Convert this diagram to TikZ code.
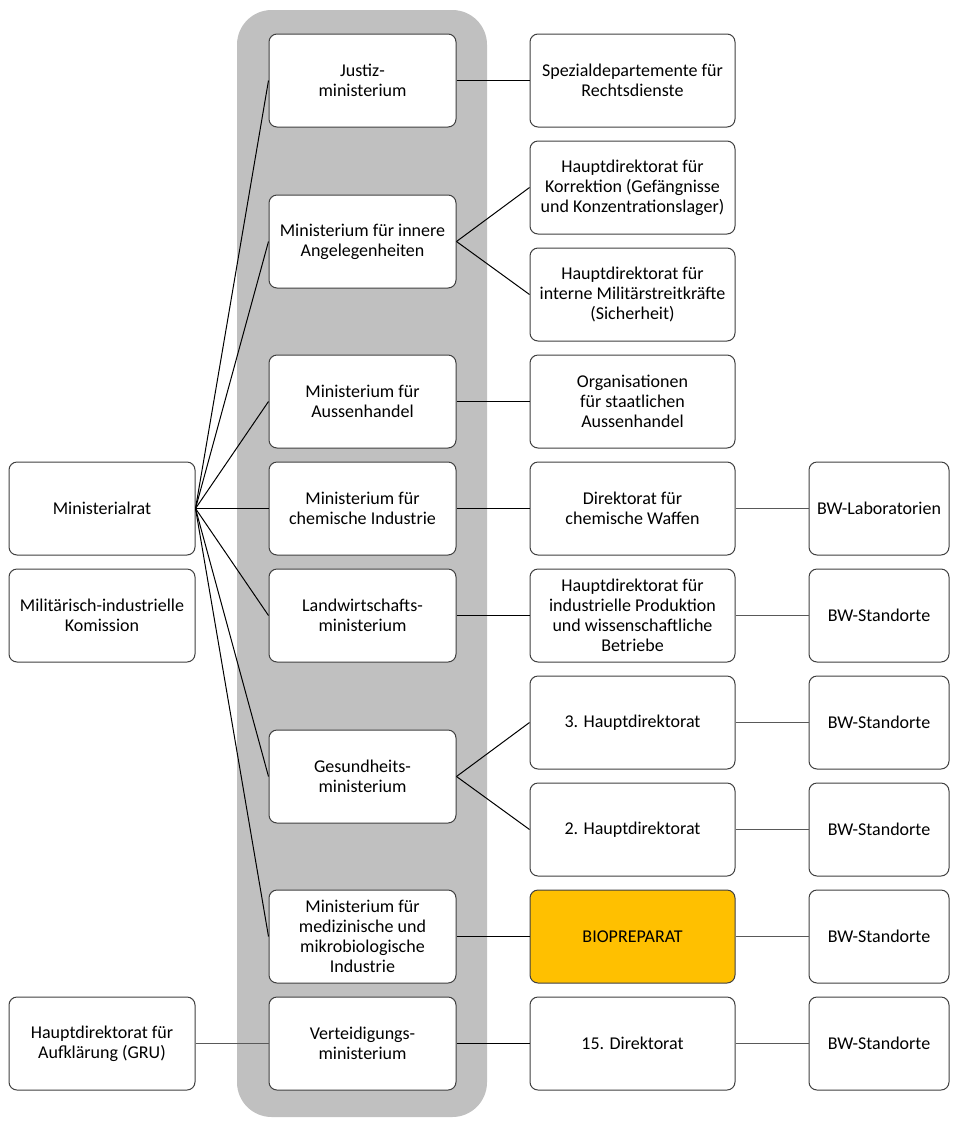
\documentclass[tikz,border=0pt]{standalone}
\usepackage{fontspec}
\setmainfont{Carlito}
\definecolor{orgcolor0000}{RGB}{192,192,192}
\definecolor{orgcolor0001}{RGB}{64,64,64}
\definecolor{orgcolor0002}{RGB}{255,192,0}
\definecolor{orgcolor0003}{RGB}{89,89,89}
\begin{document}
\begin{tikzpicture}[x=0.75pt,y=-0.75pt
,obox/.style={draw=orgcolor0001,fill=white,line width=0.75pt,rounded corners=6pt,align=center,minimum height=69.75pt,inner sep=2pt,font=\fontsize{13.5pt}{15pt}\selectfont}
,col1/.style={obox,minimum width=139.5pt}
,col2/.style={obox,minimum width=140.25pt}
,col3/.style={obox,minimum width=153.75pt}
,col4/.style={obox,minimum width=105pt}
,fanline/.style={color=black,line width=0.75pt}
,hline/.style={color=orgcolor0003,line width=0.75pt}
]
\useasboundingbox (0,0) rectangle (959,1129);
\fill[orgcolor0000,rounded corners=26pt] (237,10) rectangle (487,1117);
% left column
\node[col1] (mrat) at (102,508.5) {Ministerialrat};
\node[col1] (mik) at (102,615.5) {Militärisch-industrielle\\Komission};
\node[col1] (gru) at (102,1043.5) {Hauptdirektorat für\\Aufklärung (GRU)};
% ministries
\node[col2] (just) at (362.5,80.5) {Justiz-\\ministerium};
\node[col2] (inner) at (362.5,241.5) {Ministerium für innere\\Angelegenheiten};
\node[col2] (aussen) at (362.5,401.5) {Ministerium für\\Aussenhandel};
\node[col2] (chem) at (362.5,508.5) {Ministerium für\\chemische Industrie};
\node[col2] (landw) at (362.5,615.5) {Landwirtschafts-\\ministerium};
\node[col2] (gesund) at (362.5,776.5) {Gesundheits-\\ministerium};
\node[col2] (medi) at (362.5,936.5) {Ministerium für\\medizinische und\\mikrobiologische\\Industrie};
\node[col2] (vert) at (362.5,1043.5) {Verteidigungs-\\ministerium};
% directorates
\node[col3] (spez) at (632.5,80.5) {Spezialdepartemente für\\Rechtsdienste};
\node[col3] (korr) at (632.5,187.5) {Hauptdirektorat für\\Korrektion (Gefängnisse\\und Konzentrationslager)};
\node[col3] (intern) at (632.5,294.5) {Hauptdirektorat für\\interne Militärstreitkräfte\\(Sicherheit)};
\node[col3] (org) at (632.5,401.5) {Organisationen\\für staatlichen\\Aussenhandel};
\node[col3] (dchem) at (632.5,508.5) {Direktorat für\\chemische Waffen};
\node[col3] (indu) at (632.5,615.5) {Hauptdirektorat für\\industrielle Produktion\\und wissenschaftliche\\Betriebe};
\node[col3] (hd3) at (632.5,722.5) {3. Hauptdirektorat};
\node[col3] (hd2) at (632.5,829.5) {2. Hauptdirektorat};
\node[col3,fill=orgcolor0002] (bio) at (632.5,936.5) {BIOPREPARAT};
\node[col3] (d15) at (632.5,1043.5) {15. Direktorat};
% BW sites
\node[col4] (bwlab) at (879,508.5) {BW-Laboratorien};
\node[col4] (bw1) at (879,615.5) {BW-Standorte};
\node[col4] (bw2) at (879,722.5) {BW-Standorte};
\node[col4] (bw3) at (879,829.5) {BW-Standorte};
\node[col4] (bw4) at (879,936.5) {BW-Standorte};
\node[col4] (bw5) at (879,1043.5) {BW-Standorte};
% connectors
\foreach \m in {just,inner,aussen,chem,landw,gesund,medi}
  \draw[fanline] (mrat.east) -- (\m.west);
\draw[hline] (gru) -- (vert);
\foreach \a/\b in {just/spez,inner/korr,inner/intern,aussen/org,chem/dchem,landw/indu,gesund/hd3,gesund/hd2,medi/bio,vert/d15}
  \draw[fanline] (\a.east) -- (\b.west);
\foreach \a/\b in {dchem/bwlab,indu/bw1,hd3/bw2,hd2/bw3,bio/bw4,d15/bw5}
  \draw[hline] (\a) -- (\b);
\end{tikzpicture}
\end{document}
